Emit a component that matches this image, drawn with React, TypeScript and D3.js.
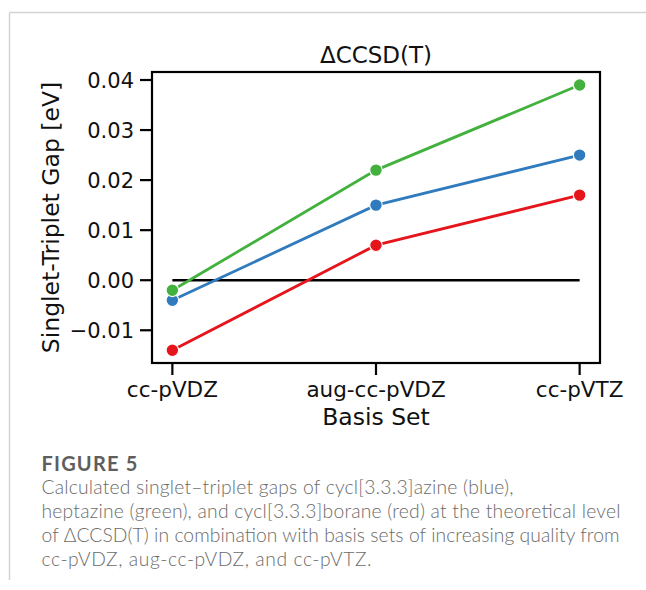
import React from "react";
import * as d3 from "d3";

const categories = ["cc-pVDZ", "aug-cc-pVDZ", "cc-pVTZ"];
const azineBlue = [-0.004, 0.015, 0.025];
const heptazineGreen = [-0.002, 0.022, 0.039];
const boraneRed = [-0.014, 0.007, 0.017];
const yTicks = [-0.01, 0.0, 0.01, 0.02, 0.03, 0.04];
const titleText = "ΔCCSD(T)";
const xLabel = "Basis Set";
const yLabel = "Singlet-Triplet Gap [eV]";
const figureLabel = "FIGURE 5";
const captionLines = [
  "Calculated singlet\u2013triplet gaps of cycl[3.3.3]azine (blue),",
  "heptazine (green), and cycl[3.3.3]borane (red) at the theoretical level",
  "of ΔCCSD(T) in combination with basis sets of increasing quality from",
  "cc-pVDZ, aug-cc-pVDZ, and cc-pVTZ.",
];
const captionWidths = [472, 579, 578, 330];

const series = [
  { name: "blue", values: azineBlue, color: "#2f7bbd" },
  { name: "green", values: heptazineGreen, color: "#42b13e" },
  { name: "red", values: boraneRed, color: "#e6141b" },
];

const W = 646;
const H = 590;
const plot = { left: 152, right: 600, top: 72, bottom: 363 };
const font = "'DejaVu Sans', sans-serif";

export default function App() {
  const x = d3.scaleLinear().domain([-0.1, 2.1]).range([plot.left, plot.right]);
  const y = d3
    .scaleLinear()
    .domain([-0.01654, 0.0416])
    .range([plot.bottom, plot.top]);
  const line = d3
    .line<number>()
    .x((_, i) => x(i))
    .y((d) => y(d));
  const fmt = (v: number) => d3.format(".2f")(v).replace("-", "\u2212");

  return (
    <svg
      width={W}
      height={H}
      style={{ position: "absolute", left: 0, top: 0, background: "#fff" }}
    >
      <rect x={0} y={0} width={W} height={H} fill="#fff" />
      {/* page border */}
      <line x1={9.5} x2={W} y1={12.5} y2={12.5} stroke="#d4d4d4" strokeWidth={1.5} />
      <line x1={9.5} x2={9.5} y1={12.5} y2={580} stroke="#d4d4d4" strokeWidth={1.5} />

      {/* title */}
      <text
        x={(plot.left + plot.right) / 2}
        y={63}
        textAnchor="middle"
        fontFamily={font}
        fontSize={23}
        fill="#111"
      >
        {titleText}
      </text>

      {/* zero line */}
      <line
        x1={x(0)}
        x2={x(categories.length - 1)}
        y1={y(0)}
        y2={y(0)}
        stroke="#000"
        strokeWidth={2.6}
      />

      {/* series */}
      {series.map((s) => (
        <g key={s.name}>
          <path d={line(s.values) || ""} fill="none" stroke={s.color} strokeWidth={2.8} />
          {s.values.map((v, i) => (
            <circle
              key={i}
              cx={x(i)}
              cy={y(v)}
              r={6.3}
              fill={s.color}
              stroke="#fff"
              strokeWidth={1.2}
            />
          ))}
        </g>
      ))}

      {/* frame */}
      <rect
        x={plot.left}
        y={plot.top}
        width={plot.right - plot.left}
        height={plot.bottom - plot.top}
        fill="none"
        stroke="#000"
        strokeWidth={2.2}
      />

      {/* y ticks */}
      {yTicks.map((t) => (
        <g key={t}>
          <line x1={plot.left - 12} x2={plot.left} y1={y(t)} y2={y(t)} stroke="#000" strokeWidth={2.2} />
          <text
            x={plot.left - 18}
            y={y(t)}
            dy="0.36em"
            textAnchor="end"
            fontFamily={font}
            fontSize={21}
            fill="#111"
          >
            {fmt(t)}
          </text>
        </g>
      ))}

      {/* x ticks */}
      {categories.map((c, i) => (
        <g key={c}>
          <line x1={x(i)} x2={x(i)} y1={plot.bottom} y2={plot.bottom + 12} stroke="#000" strokeWidth={2.2} />
          <text
            x={x(i)}
            y={397}
            textAnchor="middle"
            fontFamily={font}
            fontSize={21.5}
            fill="#111"
          >
            {c}
          </text>
        </g>
      ))}

      {/* axis labels */}
      <text
        x={(plot.left + plot.right) / 2}
        y={425}
        textAnchor="middle"
        fontFamily={font}
        fontSize={23.5}
        fill="#111"
      >
        {xLabel}
      </text>
      <text
        transform={`translate(59, ${(plot.top + plot.bottom) / 2}) rotate(-90)`}
        textAnchor="middle"
        fontFamily={font}
        fontSize={23.5}
        fill="#111"
      >
        {yLabel}
      </text>

      {/* caption */}
      <text
        x={41.5}
        y={470.5}
        fontFamily="Lato, sans-serif"
        fontWeight={700}
        fontSize={20}
        letterSpacing={1.2}
        fill="#5e5e5e"
      >
        {figureLabel}
      </text>
      {captionLines.map((l, i) => (
        <text
          key={i}
          x={41.5}
          y={493.5 + i * 24.2}
          fontFamily="Lato, sans-serif"
          fontWeight={300}
          fontSize={19.3}
          textLength={captionWidths[i]}
          lengthAdjust="spacing"
          fill="#6b6b6b"
        >
          {l}
        </text>
      ))}
    </svg>
  );
}
